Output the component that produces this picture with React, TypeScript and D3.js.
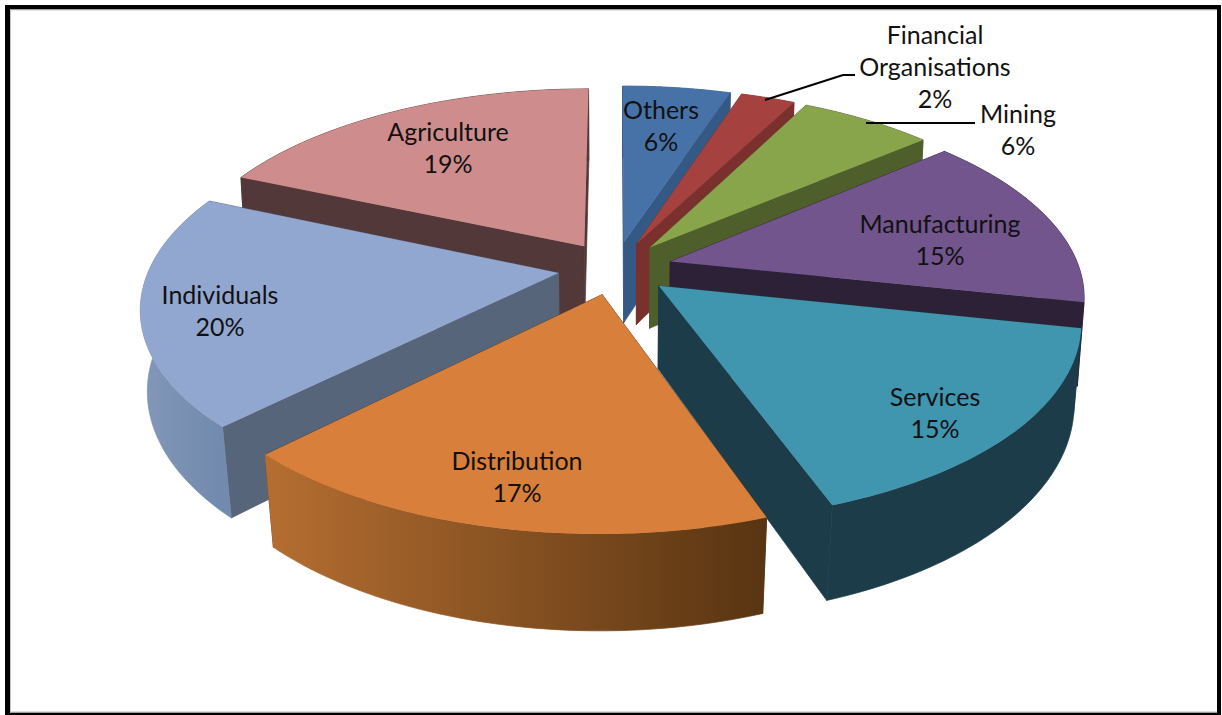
import React from "react";
import * as d3 from "d3";

const categories = ["Others", "Financial Organisations", "Mining", "Manufacturing", "Services", "Distribution", "Individuals", "Agriculture"];
const shares = [5.03, 2.53, 6.2, 14.6, 16.2, 17.9, 19.1, 18.44];
const topColors = ["#4672a8", "#a5423f", "#88a54c", "#71558c", "#4095af", "#d77f3b", "#92a7cf", "#ce8d8c"];
const cutColors = ["#355985", "#7a302d", "#4f5f2c", "#2c2137", "#1b3c48", "#5b3513", "#566579", "#523838"];
const wallLeft = ["#355985", "#7a302d", "#4f5f2c", "#2c2137", "#1b3c48", "#b56e31", "#8397b9", "#523838"];
const wallRight = ["#355985", "#7a302d", "#4f5f2c", "#2c2137", "#1b3c48", "#583412", "#718aad", "#523838"];
const drawOrder = [0, 1, 2, 7, 3, 6, 4, 5];
const labelLines = [["Others", "6%"], ["Financial", "Organisations", "2%"], ["Mining", "6%"], ["Manufacturing", "15%"], ["Services", "15%"], ["Distribution", "17%"], ["Individuals", "20%"], ["Agriculture", "19%"]];
const labelAnchors = [[661, 111], [935, 36], [1018, 115], [940, 225], [935, 398], [517, 462], [220, 296], [448, 133]];

const W = 1222, H = 715;
const CX = 615, CY = 268, RX = 409, RY = 190, PERSP = 0.1655, EXPLODE = 0.14, DEPTH = 82;

const sx = d3.scaleLinear().domain([0, 1]).range([CX, CX + RX]);
const sy = d3.scaleLinear().domain([0, 1]).range([CY, CY + RY]);
const converge = d3.scaleLinear().domain([0, 1]).range([0.988, 0.974]).clamp(true);

// u: to the right, v: towards the viewer, in units of the pie's radius
const project = (u: number, v: number, bottom = false): [number, number] => {
  const w = 1 / (1 - PERSP * v);
  const x = sx(u * w), y = sy(v * w);
  if (!bottom) return [x, y];
  return [CX + (x - CX) * converge(v), y + DEPTH * Math.pow(w, 0.8)];
};

const arcs = d3.pie<number>().sort(null).startAngle(0).endAngle(2 * Math.PI)(shares);
const path = d3.line<[number, number]>();

const slices = arcs.map((a, i) => {
  const mid = (a.startAngle + a.endAngle) / 2;
  const ox = EXPLODE * Math.sin(mid), oy = -EXPLODE * Math.cos(mid);
  const rim = (t: number, bottom = false) => project(ox + Math.sin(t), oy - Math.cos(t), bottom);
  const steps = d3.range(0, 49).map((k) => a.startAngle + ((a.endAngle - a.startAngle) * k) / 48);
  const apex = project(ox, oy), apexB = project(ox, oy, true);
  const topRim = steps.map((t) => rim(t));
  const botRim = steps.map((t) => rim(t, true));
  return {
    i,
    top: path([apex, ...topRim])! + "Z",
    wall: path([...topRim, ...[...botRim].reverse()])! + "Z",
    cutA: path([apex, rim(a.startAngle), rim(a.startAngle, true), apexB])! + "Z",
    cutB: path([apex, rim(a.endAngle), rim(a.endAngle, true), apexB])! + "Z",
    x0: d3.min(topRim, (p) => p[0])!,
    x1: d3.max(topRim, (p) => p[0])!,
  };
});

export default function App() {
  return (
    <svg width={W} height={H} viewBox={`0 0 ${W} ${H}`} style={{ position: "fixed", left: 0, top: 0, background: "#fff" }}>
      <defs>
        {slices.map((s) => (
          <linearGradient key={s.i} id={`wall${s.i}`} gradientUnits="userSpaceOnUse" x1={s.x0} x2={s.x1} y1={0} y2={0}>
            <stop offset="0" stopColor={wallLeft[s.i]} />
            <stop offset="1" stopColor={wallRight[s.i]} />
          </linearGradient>
        ))}
      </defs>
      <rect x={W - 5} y={5} width={4} height={H - 5} fill="#000" />
      <rect x={5} y={5} width={W - 6} height={4.5} fill="#000" />
      <rect x={5} y={5} width={5} height={H - 5} fill="#000" />
      <rect x={5} y={H - 2.5} width={W - 6} height={2.5} fill="#000" />
      <rect x={10} y={9.5} width={W - 15} height={0.8} fill="#bbb" />
      <rect x={10} y={9.5} width={0.8} height={H - 12} fill="#bbb" />
      <rect x={10} y={H - 3.5} width={W - 15} height={1} fill="#bbb" />
      {drawOrder.map((i) => {
        const s = slices[i];
        return (
          <g key={categories[i]}>
            <path d={s.cutA} fill={cutColors[i]} stroke={cutColors[i]} strokeWidth={0.7} />
            <path d={s.cutB} fill={cutColors[i]} stroke={cutColors[i]} strokeWidth={0.7} />
            <path d={s.wall} fill={`url(#wall${i})`} stroke={`url(#wall${i})`} strokeWidth={0.7} />
            <path d={s.top} fill={topColors[i]} />
          </g>
        );
      })}
      <path d="M765,100L843,75L855,75" fill="none" stroke="#000" strokeWidth={2} />
      <path d="M866,123L975,123" fill="none" stroke="#000" strokeWidth={2} />
      {labelLines.map((lines, i) => (
        <text key={i} textAnchor="middle" fontFamily="Lato, 'Open Sans', sans-serif" fontSize={25} fill="#111">
          {lines.map((l, k) => (
            <tspan key={k} x={labelAnchors[i][0]} y={labelAnchors[i][1] + 8 + k * 32}>{l}</tspan>
          ))}
        </text>
      ))}
    </svg>
  );
}
